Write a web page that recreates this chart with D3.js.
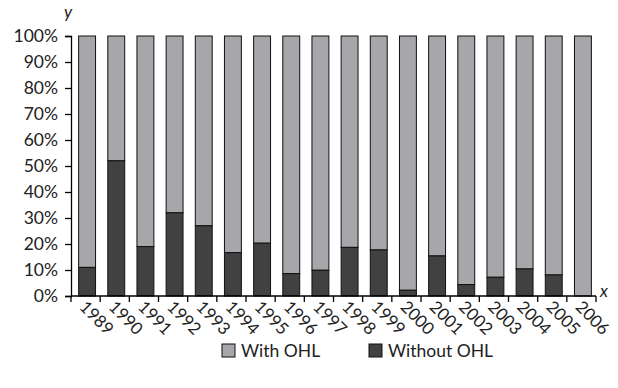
<!DOCTYPE html>
<html><head><meta charset="utf-8">
<script src="https://cdn.jsdelivr.net/npm/d3@7/dist/d3.min.js"></script>
<style>body{margin:0;background:#fff}svg{display:block}text{font-family:Lato,"Open Sans",sans-serif;fill:#222}</style>
</head><body><div id="c"></div>
<script>
const years = ["1989","1990","1991","1992","1993","1994","1995","1996","1997","1998","1999","2000","2001","2002","2003","2004","2005","2006"];
const withoutOHL = [11,52,19,32,27,16.7,20.3,8.6,9.9,18.7,17.7,2.2,15.4,4.4,7.2,10.4,8.1,0];
const withOHL = withoutOHL.map(v => 100 - v);
const yTicks = [0,10,20,30,40,50,60,70,80,90,100];
const seriesNames = ["With OHL","Without OHL"];
const colors = {"With OHL":"#a7a7ab","Without OHL":"#414141"};

const W=618,H=388;
const svg=d3.select("#c").append("svg").attr("width",W).attr("height",H);
const x=d3.scaleBand().domain(years).range([71,596]).padding(0);
const y=d3.scaleLinear().domain([0,100]).range([296,36]);
const bw=x.bandwidth()*0.58, off=(x.bandwidth()-bw)/2+1.5;

const data=years.map((yr,i)=>({year:yr,without:withoutOHL[i],with:withOHL[i]}));
const g=svg.append("g");
g.selectAll("rect.w").data(data).join("rect")
 .attr("x",d=>x(d.year)+off).attr("width",bw)
 .attr("y",d=>y(d.without+d.with)).attr("height",d=>y(d.without)-y(d.without+d.with))
 .attr("fill",colors["With OHL"]).attr("stroke","#111").attr("stroke-width",1);
g.selectAll("rect.o").data(data.filter(d=>d.without>0)).join("rect")
 .attr("x",d=>x(d.year)+off).attr("width",bw)
 .attr("y",d=>y(d.without)).attr("height",d=>y(0)-y(d.without))
 .attr("fill",colors["Without OHL"]).attr("stroke","#111").attr("stroke-width",1);

const ya=svg.append("g").attr("transform","translate(71,0)")
 .call(d3.axisLeft(y).tickValues(yTicks).tickFormat(d=>d+"%").tickSize(6).tickPadding(7));
ya.select(".domain").attr("stroke","#000").attr("stroke-width",1.3);
ya.selectAll(".tick line").attr("stroke","#000").attr("stroke-width",1.3);
ya.selectAll("text").attr("font-size",17.5).attr("fill","#222").attr("font-family","Lato");

const xa=svg.append("g").attr("transform","translate(0,296)");
xa.append("line").attr("x1",x.range()[0]).attr("x2",x.range()[1]).attr("stroke","#000").attr("stroke-width",1.3);
const bounds=years.map(d=>x(d)).concat([x.range()[1]]);
xa.selectAll("line.t").data(bounds).join("line").attr("class","t")
 .attr("x1",d=>d).attr("x2",d=>d).attr("y1",0).attr("y2",6).attr("stroke","#000").attr("stroke-width",1.3);
xa.selectAll("text.l").data(years).join("text").attr("class","l")
 .attr("transform",d=>`translate(${x(d)+x.bandwidth()/2-7},12) rotate(45)`)
 .attr("font-size",17).text(d=>d);

svg.append("text").attr("x",64).attr("y",18).attr("font-size",17).attr("font-style","italic").text("y");
svg.append("text").attr("x",600).attr("y",297).attr("font-size",17).attr("font-style","italic").text("x");

const leg=svg.append("g");
const lx=[222,369];
seriesNames.forEach((n,i)=>{
 leg.append("rect").attr("x",lx[i]).attr("y",344).attr("width",13).attr("height",13)
  .attr("fill",colors[n]).attr("stroke","#111").attr("stroke-width",1);
 leg.append("text").attr("x",lx[i]+19).attr("y",357).attr("font-size",17.5).text(n);
});
</script></body></html>
